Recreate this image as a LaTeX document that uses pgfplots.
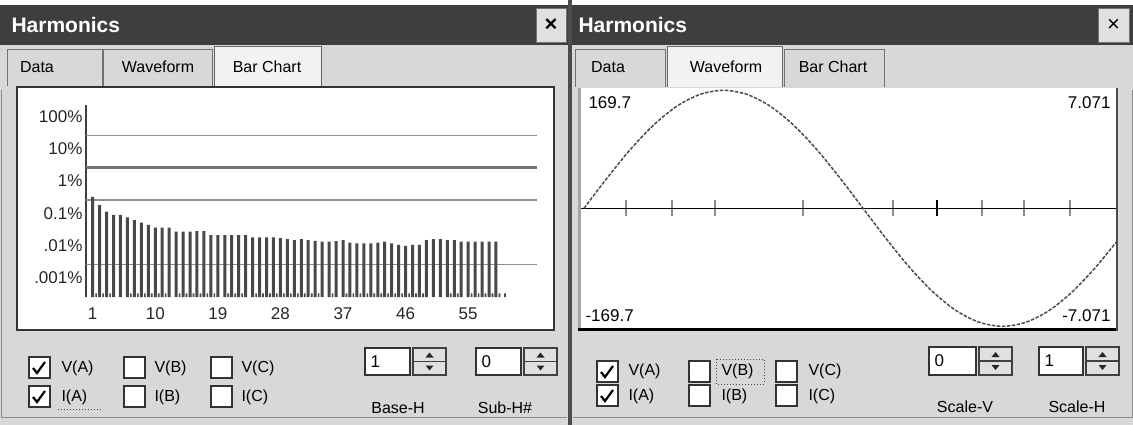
\documentclass[border=0pt]{standalone}
\usepackage{fontspec}
\setmainfont{Liberation Sans}
\usepackage{pgfplots}
\pgfplotsset{compat=1.18}
\definecolor{bg}{HTML}{D8D8D8}
\definecolor{titlebar}{HTML}{3E3E3E}
\definecolor{barc}{HTML}{484848}
\newcommand{\fs}[1]{\fontsize{#1}{#1}\selectfont}
\newcommand{\cbox}[2]{\filldraw[fill=white, draw=black!80, line width=1.5pt] (#1,#2) rectangle ++(21,21);}
\newcommand{\cmark}[2]{\draw[black, line width=2.2pt] (#1+4,#2+11) -- (#1+8,#2+16) -- (#1+16,#2+5);}
\newcommand{\spin}[5]{% x1 y1 x2 y2 text ; buttons right of box
  \filldraw[fill=white, draw=black!80, line width=1.5pt] (#1,#2) rectangle (#3,#4);
  \node[anchor=west, font=\fs{17}] at (#1+2,{(#2+#4)/2}) {#5};
  \filldraw[fill=black!12, draw=black!75, line width=1.2pt] (#3+3,#2) rectangle (#3+36,{(#2+#4)/2});
  \filldraw[fill=black!12, draw=black!75, line width=1.2pt] (#3+3,{(#2+#4)/2}) rectangle (#3+36,#4);
  \fill[black!85] (#3+15.5,{(#2+#4)/2-4}) -- (#3+23.5,{(#2+#4)/2-4}) -- (#3+19.5,{(#2+#4)/2-9}) -- cycle;
  \fill[black!85] (#3+15.5,{(#2+#4)/2+4}) -- (#3+23.5,{(#2+#4)/2+4}) -- (#3+19.5,{(#2+#4)/2+9}) -- cycle;
}
\begin{document}
\begin{tikzpicture}
\begin{scope}[x=1pt,y=-1pt]
\path[use as bounding box] (0,0) rectangle (1133,425);
\fill[bg] (0,0) rectangle (1133,425);
\fill[white] (0,0) rectangle (1133,5);
% title bars
\fill[titlebar] (0,5) rectangle (568,45);
\fill[titlebar] (572,5) rectangle (1133,45);
\fill[black!70] (568,0) rectangle (572,425);
\node[anchor=west, text=white, font=\fs{21}\bfseries] at (8,25) {Harmonics};
\node[anchor=west, text=white, font=\fs{21}\bfseries] at (575,25) {Harmonics};
\filldraw[fill=black!12, draw=black!55] (536,8) rectangle (566,42);
\node[font=\fs{22}\bfseries] at (551,25) {×};
\filldraw[fill=black!12, draw=black!55] (1098,8) rectangle (1129,42);
\node[font=\fs{22}] at (1113.5,25) {×};
% tabs left
\filldraw[fill=bg, draw=black!55, line width=1pt] (7,86) -- (7,50) -- (102,50) -- (102,86);
\filldraw[fill=bg, draw=black!55, line width=1pt] (103,86) -- (103,50) -- (212,50) -- (212,86);
\filldraw[fill=black!5, draw=black!60, line width=1pt] (214,86) -- (214,47) -- (321,47) -- (321,86);
\node[font=\fs{16}] at (37,67) {Data};
\node[font=\fs{16}] at (158,67) {Waveform};
\node[font=\fs{16}] at (267,67) {Bar Chart};
% tabs right
\filldraw[fill=bg, draw=black!55, line width=1pt] (575,87) -- (575,50) -- (665,50) -- (665,87);
\filldraw[fill=black!5, draw=black!60, line width=1pt] (667,87) -- (667,47) -- (782,47) -- (782,87);
\filldraw[fill=bg, draw=black!55, line width=1pt] (784,87) -- (784,50) -- (884,50) -- (884,87);
\node[font=\fs{16}] at (608,67) {Data};
\node[font=\fs{16}] at (726,67) {Waveform};
\node[font=\fs{16}] at (833,67) {Bar Chart};
% plot areas
\filldraw[fill=white, draw=black!80, line width=1.2pt] (17,87) rectangle (554,330);
\fill[white] (581,88) rectangle (1116,328);
\draw[black!35, line width=3pt] (579,88) -- (579,330);
\draw[black, line width=3pt] (578,329.5) -- (1118,329.5);
\draw[black!70, line width=1.5pt] (1117,88) -- (1117,331);
\draw[black!45, line width=1pt] (1,90) -- (1,417) -- (567,417);
\draw[black!45, line width=1pt] (1132,90) -- (1132,417) -- (573,417);
% left controls
\cbox{29}{357}\cmark{29}{357}
\cbox{29}{386}\cmark{29}{386}
\cbox{124}{357}\cbox{124}{386}
\cbox{211}{357}\cbox{211}{386}
\node[anchor=west, font=\fs{16}] at (58,368) {V(A)};
\node[anchor=west, font=\fs{16}] at (58,397) {I(A)};
\node[anchor=west, font=\fs{16}] at (151,368) {V(B)};
\node[anchor=west, font=\fs{16}] at (151,397) {I(B)};
\node[anchor=west, font=\fs{16}] at (238,368) {V(C)};
\node[anchor=west, font=\fs{16}] at (238,397) {I(C)};
\draw[black!70, dotted, line width=1pt] (58,409) -- (102,409);
\spin{365}{348}{410}{375}{1}
\spin{476}{348}{521}{375}{0}
\node[font=\fs{16}] at (398,408) {Base-H};
\node[font=\fs{16}] at (505,408) {Sub-H\#};
% right controls
\cbox{597}{361}\cmark{597}{361}
\cbox{597}{385}\cmark{597}{385}
\cbox{689}{361}\cbox{689}{385}
\cbox{776}{361}\cbox{776}{385}
\node[anchor=west, font=\fs{16}] at (625,371) {V(A)};
\node[anchor=west, font=\fs{16}] at (625,396) {I(A)};
\node[anchor=west, font=\fs{16}] at (718,371) {V(B)};
\node[anchor=west, font=\fs{16}] at (718,396) {I(B)};
\node[anchor=west, font=\fs{16}] at (805,371) {V(C)};
\node[anchor=west, font=\fs{16}] at (805,396) {I(C)};
\draw[black!70, dotted, line width=1pt] (716,359) rectangle (764,384);
\spin{929}{347}{976}{375}{0}
\spin{1039}{347}{1083}{375}{1}
\node[font=\fs{16}] at (965,407) {Scale-V};
\node[font=\fs{16}] at (1077,407) {Scale-H};
% waveform labels
\node[anchor=west, font=\fs{17}] at (585,103) {169.7};
\node[anchor=east, font=\fs{17}] at (1114,103) {7.071};
\node[anchor=west, font=\fs{17}] at (582,316) {-169.7};
\node[anchor=east, font=\fs{17}] at (1114,316) {-7.071};
\end{scope}

% ---------- Bar chart ----------
\begin{axis}[
  at={(86pt,-297pt)}, anchor=south west, scale only axis,
  width=451pt, height=192pt,
  ymode=log, ymin=0.001, ymax=880, log origin=infty,
  xmin=0.04, xmax=64.9,
  axis lines*=left, separate axis lines,
  x axis line style={draw=none},
  y axis line style={black!75, line width=2pt},
  xtick={1,10,19,28,37,46,55}, major tick length=0pt,
  ytick={0.001,0.01,0.1,1,10,100},
  yticklabels={.001\%,.01\%,0.1\%,1\%,10\%,100\%},
  yminorticks=false,
  yticklabel style={yshift=19pt, font=\fs{17}, text=black!85},
  xticklabel style={font=\fs{17}, text=black!85, yshift=-7pt},
  /pgf/number format/assume math mode=true,
  extra y ticks={0.01,1,100}, extra y tick labels={},
  extra y tick style={grid=major, major grid style={black!45, line width=1.5pt}},
]
\draw[black!55, line width=3pt] (axis cs:0.04,10) -- (axis cs:64.9,10);
\addplot[ybar, bar shift=0pt, bar width=3pt, fill=barc, draw=none] coordinates {
(1,1.27)(2,0.70)(3,0.44)(4,0.35)(5,0.35)(6,0.29)(7,0.24)(8,0.20)(9,0.17)(10,0.14)
(11,0.14)(12,0.14)(13,0.105)(14,0.105)(15,0.105)(16,0.11)(17,0.11)(18,0.083)(19,0.083)(20,0.083)
(21,0.083)(22,0.083)(23,0.083)(24,0.07)(25,0.07)(26,0.07)(27,0.07)(28,0.066)(29,0.062)(30,0.058)
(31,0.062)(32,0.058)(33,0.055)(34,0.052)(35,0.052)(36,0.054)(37,0.058)(38,0.048)(39,0.046)(40,0.046)
(41,0.046)(42,0.048)(43,0.052)(44,0.046)(45,0.041)(46,0.038)(47,0.041)(48,0.041)(49,0.058)(50,0.062)
(51,0.062)(52,0.058)(53,0.058)(54,0.052)(55,0.052)(56,0.052)(57,0.052)(58,0.052)(59,0.052)};
\addplot[ybar, bar shift=0pt, bar width=1.6pt, fill=barc, draw=none] coordinates {
(1.5,0.0013)(2.5,0.0013)(3.5,0.0013)(6.5,0.0013)(7.5,0.0013)(8.5,0.0013)(9.5,0.0013)(10.5,0.0013)
(11.5,0.0013)(13.5,0.0013)(14.5,0.0013)(15.5,0.0013)(16.5,0.0013)(17.5,0.0013)(18.5,0.0013)(20.5,0.0013)
(21.5,0.0013)(22.5,0.0013)(24.5,0.0013)(25.5,0.0013)(26.5,0.0013)(27.5,0.0013)(28.5,0.0013)(29.5,0.0013)
(30.5,0.0013)(31.5,0.0013)(32.5,0.0013)(33.5,0.0013)(35.5,0.0013)(37.5,0.0013)(38.5,0.0013)(39.5,0.0013)
(40.5,0.0013)(41.5,0.0013)(42.5,0.0013)(43.5,0.0013)(44.5,0.0013)(45.5,0.0013)(46.5,0.0013)(47.5,0.0013)
(48.5,0.0013)(52.5,0.0013)(53.5,0.0013)(55.5,0.0013)(56.5,0.0013)(57.5,0.0013)(58.5,0.0013)(59.5,0.0013)(60.3,0.0013)};
\end{axis}

% ---------- Waveform ----------
\begin{axis}[
  at={(581pt,-328pt)}, anchor=south west, scale only axis,
  width=535pt, height=240pt,
  xmin=-1.94, xmax=343.2, ymin=-172.1, ymax=173.0,
  axis x line*=middle, axis y line=none,
  x axis line style={black, line width=1.5pt},
  xtick={27.1,56.8,84.5,141.3,199.4,256.8,283.9,313.5}, xticklabels={},
  extra x ticks={227.7}, extra x tick labels={},
  extra x tick style={major tick style={black, line width=1.6pt}},
  major tick length=16pt, tick align=center,
  major tick style={black!45, line width=1.3pt},
  ytick=\empty,
]
\addplot[smooth, black!70, line width=1.5pt, dash pattern=on 3.5pt off 1.5pt] coordinates {
(0,0)(15,43.9)(30,84.9)(45,120.0)(60,147.0)(75,163.9)(90,169.7)(105,163.9)(120,147.0)
(135,120.0)(150,84.9)(165,43.9)(180,0)(195,-43.9)(210,-84.9)(225,-120.0)(240,-147.0)
(255,-163.9)(270,-169.7)(285,-163.9)(300,-147.0)(315,-120.0)(330,-84.9)(343.2,-49.0)};
\end{axis}
\end{tikzpicture}
\end{document}
